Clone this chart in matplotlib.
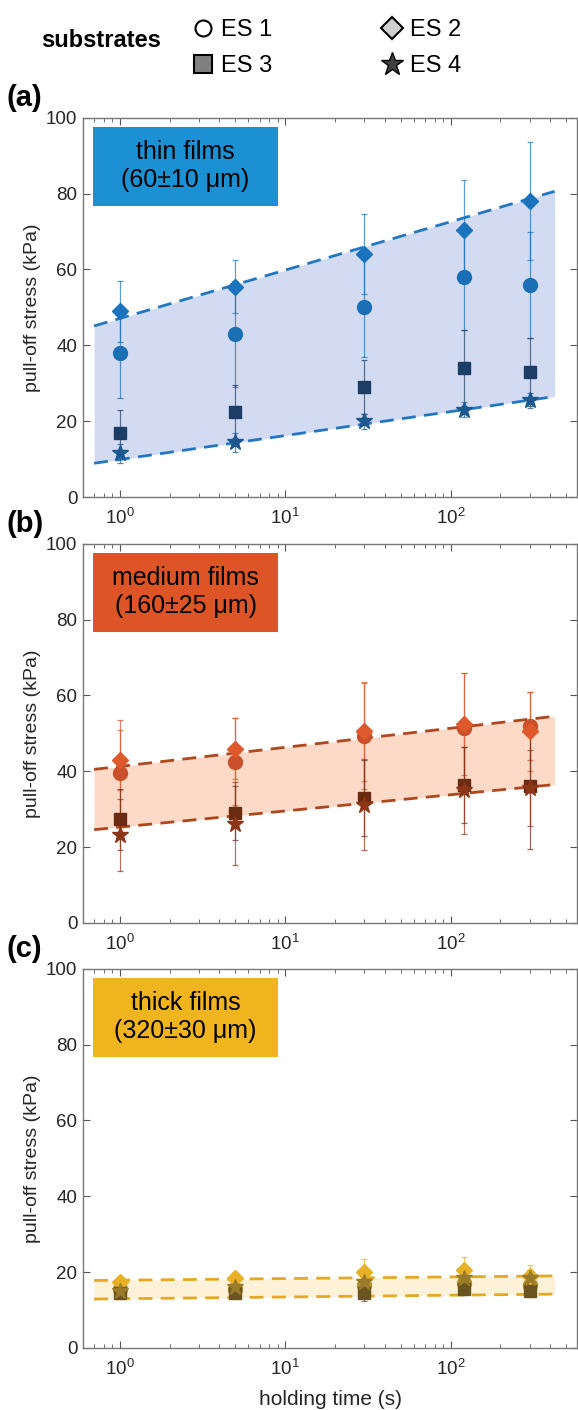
import numpy as np
import matplotlib.pyplot as plt
from matplotlib.lines import Line2D
from matplotlib.patches import Rectangle
from matplotlib.ticker import LogLocator, NullFormatter

#%% Data
hold_time = [1, 5, 30, 120, 300]          # holding time (s)
band_time = [0.7, 425]                     # extent of the shaded fit band

# thin films (60±10 µm)
thin_es1 = [38, 43, 50, 58, 56]
thin_es1_err = [12, 14, 13, 14, 14]
thin_es2 = [49, 55.5, 64, 70.5, 78]
thin_es2_err = [8, 7, 10.5, 13, 15.5]
thin_es3 = [17, 22.5, 29, 34, 33]
thin_es3_err = [6, 7, 7, 10, 9]
thin_es4 = [11.5, 14.5, 20, 23, 25.5]
thin_es4_err = [2.5, 2.5, 2, 2, 2]
thin_upper = [45.1, 80.6]
thin_lower = [8.9, 26.5]

# medium films (160±25 µm)
med_es1 = [39.5, 42.5, 49.2, 51.4, 52]
med_es1_err = [14, 11.5, 14, 14.5, 9]
med_es2 = [43, 46, 50.5, 52.5, 50.5]
med_es2_err = [8, 8, 13, 13.5, 10.5]
med_es3 = [27.3, 29, 33, 36.3, 36]
med_es3_err = [8, 7, 10, 10, 16.5]
med_es4 = [23.3, 26.2, 31.2, 35, 35.5]
med_es4_err = [9.5, 11, 12, 11.5, 10]
med_upper = [40.5, 54.5]
med_lower = [24.6, 36.5]

# thick films (320±30 µm)
thick_es1 = [15.5, 15.5, 16.5, 17, 16.5]
thick_es1_err = [1.5, 1.5, 2.5, 2.5, 2]
thick_es2 = [17.5, 18.5, 20, 20.5, 19]
thick_es2_err = [1, 1.5, 3.5, 3.5, 3]
thick_es3 = [14.5, 14.5, 14.5, 15.5, 15]
thick_es3_err = [1, 1, 2, 1.5, 1.5]
thick_es4 = [15, 16, 17.5, 18.5, 18.5]
thick_es4_err = [1, 1, 2, 2.5, 2]
thick_upper = [17.8, 19.0]
thick_lower = [12.9, 14.2]

substrate_names = ['ES 1', 'ES 2', 'ES 3', 'ES 4']
panel_tags = ['(a)', '(b)', '(c)']
panel_titles = ['thin films\n(60±10 μm)', 'medium films\n(160±25 μm)',
                'thick films\n(320±30 μm)']

#%% Style settings
plt.rcParams['font.family'] = ['Liberation Sans', 'DejaVu Sans']
markers = ['o', 'D', 's', '*']
msizes = [10, 8.5, 8, 12]

panels = [
    dict(series=[thin_es1, thin_es2, thin_es3, thin_es4],
         errors=[thin_es1_err, thin_es2_err, thin_es3_err, thin_es4_err],
         upper=thin_upper, lower=thin_lower,
         colors=['#1a6fb5', '#1a74bd', '#1b3d66', '#1b5890'],
         box='#1b90d3', fill='#d3dbf2', line='#2277c4'),
    dict(series=[med_es1, med_es2, med_es3, med_es4],
         errors=[med_es1_err, med_es2_err, med_es3_err, med_es4_err],
         upper=med_upper, lower=med_lower,
         colors=['#c9502a', '#de5a2c', '#6b2a12', '#8c3618'],
         box='#dd5427', fill='#fcdac7', line='#b0461e'),
    dict(series=[thick_es1, thick_es2, thick_es3, thick_es4],
         errors=[thick_es1_err, thick_es2_err, thick_es3_err, thick_es4_err],
         upper=thick_upper, lower=thick_lower,
         colors=['#b08a2a', '#e8b024', '#6a5420', '#9a7b2c'],
         box='#f0b41f', fill='#fdf1d8', line='#e5a823'),
]

#%% Figure
fig = plt.figure(figsize=(5.78, 14.1), dpi=100)
bottoms = [0.6475, 0.3454, 0.0440]
axes_h = 0.2690

for k, p in enumerate(panels):
    ax = fig.add_axes([0.1436, bottoms[k], 0.8547, axes_h])
    ax.set_xscale('log')

    # shaded band + dashed fit lines
    ax.fill_between(band_time, p['lower'], p['upper'], color=p['fill'],
                    lw=0, zorder=1)
    ax.plot(band_time, p['upper'], '--', color=p['line'], lw=2,
            dashes=(5, 3), zorder=2)
    ax.plot(band_time, p['lower'], '--', color=p['line'], lw=2,
            dashes=(5, 3), zorder=2)

    for s in range(4):
        ax.errorbar(hold_time, p['series'][s], yerr=p['errors'][s],
                    fmt='none', ecolor=p['colors'][s], elinewidth=0.9,
                    capsize=2, capthick=0.9, alpha=0.7, zorder=3)
        ax.plot(hold_time, p['series'][s], ls='none', marker=markers[s],
                ms=msizes[s], color=p['colors'][s], mec=p['colors'][s],
                zorder=4)

    ax.set_xlim(0.6, 580)
    ax.set_ylim(0, 100)
    ax.set_yticks([0, 20, 40, 60, 80, 100])
    ax.xaxis.set_major_locator(LogLocator(base=10, numticks=10))
    ax.xaxis.set_minor_locator(LogLocator(base=10, subs=np.arange(2, 10),
                                          numticks=10))
    ax.xaxis.set_minor_formatter(NullFormatter())
    ax.tick_params(which='both', direction='in', top=True, right=True,
                   colors='#555555', labelcolor='#262626')
    ax.tick_params(axis='y', labelsize=13.5, pad=4)
    ax.tick_params(axis='x', which='major', labelsize=13.5, pad=8)
    ax.tick_params(which='major', length=5, width=0.8)
    ax.tick_params(which='minor', length=3, width=0.6)
    for sp in ax.spines.values():
        sp.set_color('#777777')
        sp.set_linewidth(1)
    ax.set_ylabel('pull-off stress (kPa)', fontsize=14, color='#262626',
                  labelpad=4)

    # coloured label box
    ax.add_patch(Rectangle((0.020, 0.768), 0.375, 0.208,
                           transform=ax.transAxes, fc=p['box'], ec='none',
                           zorder=5))
    ax.text(0.2075, 0.872, panel_titles[k], transform=ax.transAxes,
            ha='center', va='center', fontsize=18, color='black',
            linespacing=1.2, zorder=6)
    fig.text(0.012, bottoms[k] + axes_h + 0.014, panel_tags[k],
             fontsize=21, fontweight='bold', ha='left', va='center')

    if k == 2:
        ax.set_xlabel('holding time (s)', fontsize=15, color='#262626',
                      labelpad=8)

#%% Substrate legend
fig.text(0.072, 0.971, 'substrates', fontsize=17, fontweight='bold',
         ha='left', va='center')
handles = [
    Line2D([], [], ls='none', marker='o', ms=11.5, mfc='white', mec='black', mew=1.5),
    Line2D([], [], ls='none', marker='s', ms=12.5, mfc='#808080', mec='black', mew=1.5),
    Line2D([], [], ls='none', marker='D', ms=11, mfc='#d0d0d0', mec='black', mew=1.5),
    Line2D([], [], ls='none', marker='*', ms=17, mfc='#404040', mec='black', mew=1),
]
labels = [substrate_names[0], substrate_names[2], substrate_names[1],
          substrate_names[3]]
fig.legend(handles, labels, ncol=2, loc='upper left',
           bbox_to_anchor=(0.294, 1.0015), frameon=False, fontsize=17,
           handlelength=1.0, handletextpad=0.25, columnspacing=4.6,
           labelspacing=0.6)

fig.savefig('out.png', dpi=100)
